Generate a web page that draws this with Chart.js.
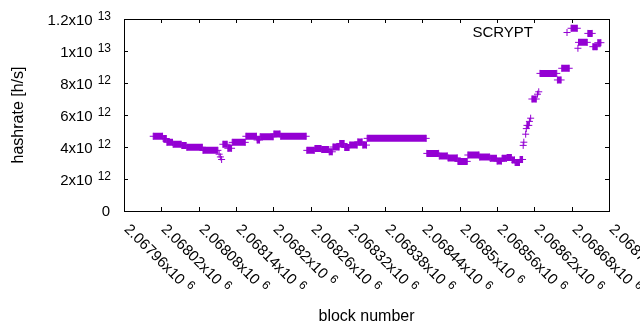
<!DOCTYPE html>
<html>
<head>
<meta charset="utf-8">
<script src="https://cdn.jsdelivr.net/npm/chart.js@4/dist/chart.umd.min.js"></script>
<style>
  html, body { margin: 0; padding: 0; background: #fff; }
  canvas { display: block; }
</style>
</head>
<body>
<canvas id="graphCanvas" width="640" height="330"></canvas>
<script>
// runs of blocks that share the same hashrate (start block, end block, value in 10^12 h/s)
var runStart = [2068007, 2068023, 2068029, 2068039, 2068053, 2068061, 2068087, 2068113, 2068115, 2068117,
  2068119, 2068127, 2068134, 2068156, 2068174, 2068179, 2068201, 2068212, 2068254, 2068267,
  2068278, 2068290, 2068296, 2068307, 2068315, 2068323, 2068336, 2068344, 2068351, 2068447,
  2068467, 2068481, 2068497, 2068513, 2068532, 2068549, 2068560, 2068568, 2068576, 2068584,
  2068589, 2068597, 2068602, 2068603, 2068606, 2068607, 2068608, 2068612, 2068614, 2068616,
  2068625, 2068627, 2068629, 2068657, 2068664, 2068679, 2068690, 2068691, 2068706, 2068714, 2068722];
var runEnd = [2068022, 2068028, 2068038, 2068052, 2068060, 2068086, 2068111, 2068113, 2068115, 2068117,
  2068126, 2068133, 2068155, 2068173, 2068178, 2068200, 2068211, 2068253, 2068266, 2068277,
  2068289, 2068295, 2068306, 2068314, 2068322, 2068335, 2068343, 2068350, 2068446, 2068466,
  2068480, 2068496, 2068512, 2068531, 2068548, 2068559, 2068567, 2068575, 2068583, 2068588,
  2068596, 2068601, 2068602, 2068603, 2068606, 2068607, 2068611, 2068612, 2068614, 2068623,
  2068625, 2068627, 2068656, 2068663, 2068676, 2068689, 2068690, 2068705, 2068713, 2068721, 2068727];
var hashrate = [4.67, 4.53, 4.29, 4.17, 4.09, 3.98, 3.79, 3.55, 3.38, 3.22,
  4.17, 3.92, 4.29, 4.67, 4.44, 4.64, 4.81, 4.67, 3.79, 3.90,
  3.84, 3.70, 4.00, 4.22, 3.97, 4.12, 4.32, 4.12, 4.54, 3.60,
  3.44, 3.32, 3.10, 3.50, 3.37, 3.29, 3.12, 3.29, 3.34, 3.19,
  3.03, 3.22, 4.10, 4.30, 4.80, 5.15, 5.35, 5.60, 5.80, 7.00,
  7.30, 7.45, 8.60, 8.19, 8.92, 11.42, 10.17, 10.54, 11.10, 10.27, 10.52];

var xTicks = [2067960, 2068020, 2068080, 2068140, 2068200, 2068260, 2068320,
  2068380, 2068440, 2068500, 2068560, 2068620, 2068680, 2068740];
var xTickLabels = ['2.06796x10^6', '2.06802x10^6', '2.06808x10^6', '2.06814x10^6', '2.0682x10^6',
  '2.06826x10^6', '2.06832x10^6', '2.06838x10^6', '2.06844x10^6', '2.0685x10^6',
  '2.06856x10^6', '2.06862x10^6', '2.06868x10^6', '2.06874x10^6'];
var yTicks = [0, 2e12, 4e12, 6e12, 8e12, 1e13, 1.2e13];
var yTickLabels = ['0', '2x10^12', '4x10^12', '6x10^12', '8x10^12', '1x10^13', '1.2x10^13'];

var seriesName = 'SCRYPT';
var purple = '#9400d3';

document.addEventListener("DOMContentLoaded", ()=>{
  var canvas = document.getElementById('graphCanvas');
  var ctx = canvas.getContext('2d');

  // each run becomes two points joined by a thick line, then a gap
  var points = [];
  for (var i = 0; i < runStart.length; i++) {
    var v = hashrate[i] * 1e12;
    points.push({ x: runStart[i], y: v });
    if (runEnd[i] != runStart[i]) points.push({ x: runEnd[i], y: v });
    points.push({ x: runEnd[i], y: null });
  }

  var FONT = '"Liberation Sans", Arial, sans-serif';

  // gnuplot-like frame, inward ticks, enhanced text labels
  var gnuFrame = {
    id: 'gnuFrame',
    afterDraw(chart) {
      var c = chart.ctx;
      var a = chart.chartArea;
      var xs = chart.scales.x, ys = chart.scales.y;
      c.save();
      c.strokeStyle = '#000';
      c.lineWidth = 1;
      c.strokeRect(a.left + 0.5, a.top + 0.5, a.right - a.left, a.bottom - a.top);

      c.beginPath();
      xTicks.forEach(t => {
        var px = Math.round(xs.getPixelForValue(t)) + 0.5;
        c.moveTo(px, a.bottom); c.lineTo(px, a.bottom - 4);
        c.moveTo(px, a.top); c.lineTo(px, a.top + 4);
      });
      yTicks.forEach(t => {
        var py = Math.round(ys.getPixelForValue(t)) + 0.5;
        c.moveTo(a.left, py); c.lineTo(a.left + 4, py);
        c.moveTo(a.right, py); c.lineTo(a.right - 4, py);
      });
      c.stroke();

      c.fillStyle = '#000';
      // y labels
      yTicks.forEach((t, k) => {
        var py = Math.round(ys.getPixelForValue(t));
        var parts = yTickLabels[k].split('^');
        var right = 111;
        c.textBaseline = 'alphabetic';
        c.textAlign = 'right';
        if (parts.length > 1) {
          c.font = '12px ' + FONT;
          c.fillText(parts[1], right, py + 0.5);
          var sw = c.measureText(parts[1]).width;
          c.font = '15px ' + FONT;
          c.fillText(parts[0], right - sw - 5, py + 5.5);
        } else {
          c.font = '15px ' + FONT;
          c.fillText(parts[0], right - 1, py + 5);
        }
      });

      // x labels, rotated
      xTicks.forEach((t, k) => {
        var px = Math.round(xs.getPixelForValue(t));
        var parts = xTickLabels[k].split('^');
        c.save();
        c.translate(px - 0.5, 230);
        c.rotate(Math.PI / 4);
        c.textAlign = 'left';
        c.textBaseline = 'alphabetic';
        c.font = '15px ' + FONT;
        c.fillText(parts[0], 0, 0);
        var w = c.measureText(parts[0]).width;
        c.font = '12px ' + FONT;
        c.fillText(parts[1], w + 5, -5);
        c.restore();
      });

      // axis titles
      c.font = '16px ' + FONT;
      c.textAlign = 'center';
      c.textBaseline = 'alphabetic';
      c.fillText('block number', (a.left + a.right) / 2, 321);
      c.save();
      c.translate(23, (a.top + a.bottom) / 2);
      c.rotate(-Math.PI / 2);
      c.fillText('hashrate [h/s]', 0, 0);
      c.restore();

      // key
      c.font = '15px ' + FONT;
      c.textAlign = 'right';
      c.fillText(seriesName, 533, 37);
      c.strokeStyle = purple;
      c.beginPath();
      c.moveTo(563.5, 32.5); c.lineTo(570.5, 32.5);
      c.moveTo(567, 29); c.lineTo(567, 36);
      c.stroke();
      c.restore();
    }
  };

  var config = {
    type: 'scatter',
    data: {
      datasets: [{
        label: seriesName,
        data: points,
        showLine: true,
        spanGaps: false,
        borderColor: purple,
        borderWidth: 7,
        borderCapStyle: 'butt',
        pointStyle: 'cross',
        pointRadius: 3.5,
        pointBorderWidth: 1,
        pointBorderColor: purple,
        pointBackgroundColor: purple
      }]
    },
    options: {
      responsive: false,
      animation: false,
      layout: { padding: { left: 124, right: 31, top: 19, bottom: 119 } },
      plugins: { legend: { display: false }, tooltip: { enabled: false } },
      scales: {
        x: { type: 'linear', min: 2067960, max: 2068740, display: false },
        y: { type: 'linear', min: 0, max: 1.2e13, display: false }
      }
    },
    plugins: [gnuFrame]
  };

  var graph = new Chart(ctx, config);
});
</script>
</body>
</html>
